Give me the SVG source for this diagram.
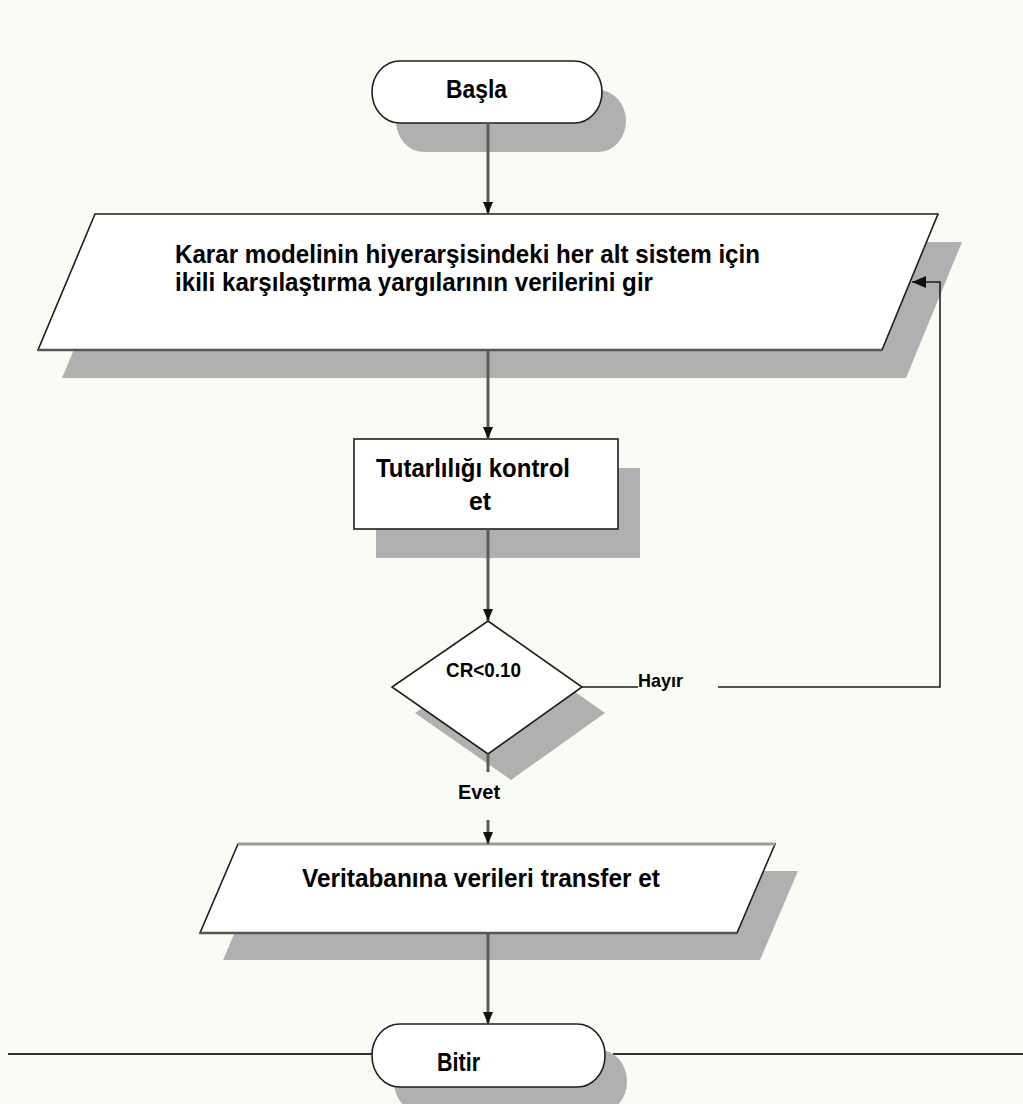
<svg xmlns="http://www.w3.org/2000/svg" width="1023" height="1104" viewBox="0 0 1023 1104">
  <defs>
    <style>
      .shadow { fill: #b0b0b0; stroke: none; }
      .shape { fill: #ffffff; stroke: #1e1e1e; stroke-width: 1.6; }
      .lbl { font-family: "Liberation Sans Narrow", "Liberation Sans", Arial, sans-serif; font-weight: bold; fill: #000; }
      .flow { stroke: #5a5a5a; stroke-width: 3; fill: none; }
      .loop { stroke: #1e1e1e; stroke-width: 1.6; fill: none; }
    </style>
    <!-- filled arrowhead drawn along +x so orient="auto" follows the line -->
    <marker id="head" viewBox="0 0 12 10" refX="12" refY="5" markerWidth="12" markerHeight="10" markerUnits="userSpaceOnUse" orient="auto">
      <path d="M0,0 L12,5 L0,10 Z" fill="#111"/>
    </marker>
    <marker id="headL" viewBox="0 0 14 12" refX="14" refY="6" markerWidth="14" markerHeight="12" markerUnits="userSpaceOnUse" orient="auto">
      <path d="M0,0 L14,6 L0,12 Z" fill="#111"/>
    </marker>
  </defs>

  <rect x="0" y="0" width="1023" height="1104" fill="#fbfbf6"/>

  <!-- start terminal -->
  <g id="start">
    <rect class="shadow" x="396" y="90" width="230" height="62" rx="28" ry="31"/>
    <rect class="shape" x="372" y="61" width="230" height="62" rx="28" ry="31"/>
    <text class="lbl" x="446" y="98" font-size="26" textLength="61" lengthAdjust="spacingAndGlyphs">Başla</text>
  </g>

  <!-- input data -->
  <g id="input">
    <polygon class="shadow" points="119,242 962,242 906,378 62,378"/>
    <polygon class="shape" points="95,214 938,214 882,350 38,350"/>
    <line x1="38" y1="350" x2="882" y2="350" stroke="#555" stroke-width="2.5"/>
    <text class="lbl" x="175" y="263" font-size="25" textLength="585" lengthAdjust="spacingAndGlyphs">Karar modelinin hiyerarşisindeki her alt sistem için</text>
    <text class="lbl" x="175" y="291" font-size="25" textLength="478" lengthAdjust="spacingAndGlyphs">ikili karşılaştırma yargılarının verilerini gir</text>
  </g>

  <!-- consistency check -->
  <g id="check">
    <rect class="shadow" x="376" y="468" width="264" height="90"/>
    <rect class="shape" x="354" y="439" width="264" height="90"/>
    <text class="lbl" x="376" y="477" font-size="25" textLength="194" lengthAdjust="spacingAndGlyphs">Tutarlılığı kontrol</text>
    <text class="lbl" x="469" y="510" font-size="25" textLength="22" lengthAdjust="spacingAndGlyphs">et</text>
  </g>

  <!-- decision -->
  <g id="decision">
    <polygon class="shadow" points="511,647 605,713 511,780 415,713"/>
    <polygon class="shape" points="488,621 582,687 488,754 392,687"/>
    <text class="lbl" x="446" y="677" font-size="20" textLength="75" lengthAdjust="spacingAndGlyphs">CR&lt;0.10</text>
  </g>

  <!-- transfer to database -->
  <g id="transfer">
    <polygon class="shadow" points="261,871 798,871 760,960 223,960"/>
    <polygon class="shape" points="238,844 775,844 737,933 200,933"/>
    <line x1="238" y1="844" x2="775" y2="844" stroke="#9a9a9a" stroke-width="3"/>
    <line x1="200" y1="933" x2="737" y2="933" stroke="#555" stroke-width="2.5"/>
    <text class="lbl" x="302" y="887" font-size="25" textLength="358" lengthAdjust="spacingAndGlyphs">Veritabanına verileri transfer et</text>
  </g>

  <!-- end terminal -->
  <g id="end">
    <line x1="8" y1="1054" x2="372" y2="1054" stroke="#333" stroke-width="2"/>
    <line x1="613" y1="1054" x2="1023" y2="1054" stroke="#333" stroke-width="2"/>
    <rect class="shadow" x="394" y="1050" width="233" height="63" rx="28" ry="31"/>
    <rect class="shape" x="372" y="1024" width="233" height="63" rx="28" ry="31"/>
    <text class="lbl" x="437" y="1071" font-size="25" textLength="43" lengthAdjust="spacingAndGlyphs">Bitir</text>
  </g>

  <!-- connectors -->
  <g id="connectors">
    <line class="flow" x1="488" y1="123" x2="488" y2="214" marker-end="url(#head)"/>
    <line class="flow" x1="488" y1="351" x2="488" y2="439" marker-end="url(#head)"/>
    <line class="flow" x1="488" y1="529" x2="488" y2="621" marker-end="url(#head)"/>
    <line class="flow" x1="488" y1="754" x2="488" y2="772"/>
    <line class="flow" x1="488" y1="820" x2="488" y2="844" marker-end="url(#head)"/>
    <line class="flow" x1="488" y1="934" x2="488" y2="1024" marker-end="url(#head)"/>
    <line class="loop" x1="582" y1="687" x2="638" y2="687"/>
    <polyline class="loop" points="718,687 940,687 940,282 912,282" marker-end="url(#headL)"/>
    <text class="lbl" x="638" y="687" font-size="19" textLength="45" lengthAdjust="spacingAndGlyphs">Hayır</text>
    <text class="lbl" x="458" y="799" font-size="20" textLength="42" lengthAdjust="spacingAndGlyphs">Evet</text>
  </g>
</svg>
